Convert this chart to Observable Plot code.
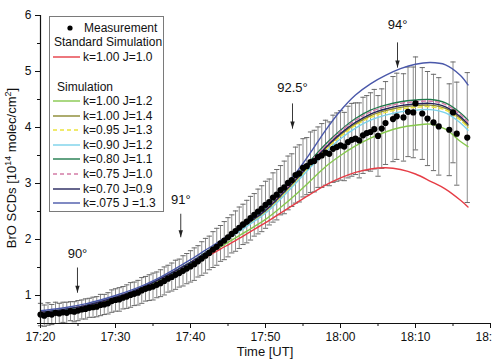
<!DOCTYPE html>
<html>
<head>
<meta charset="utf-8">
<script src="https://cdn.jsdelivr.net/npm/d3@7"></script>
<script src="https://cdn.jsdelivr.net/npm/@observablehq/plot@0.6"></script>
<style>
  body { margin: 0; background: #fff; }
  #wrap { position: relative; width: 492px; height: 360px; overflow: hidden; background: #fff; }
  #wrap svg { display: block; }
  #legend { position: absolute; left: 49px; top: 16px; }
</style>
</head>
<body>
<div id="wrap"></div>
<script>
const FONT = '"Liberation Sans", Arial, Helvetica, sans-serif';

// Measurement: minutes after 17:20 UT, BrO SCD (10^14 molec/cm^2) and its error
const measTime = [
  0, 0.5, 1, 1.5, 2, 2.5, 3, 3.5, 4, 4.5,
  5, 5.5, 6, 6.5, 7, 7.5, 8, 8.5, 9, 9.5,
  10, 10.5, 11, 11.5, 12, 12.5, 13, 13.5, 14, 14.5,
  15, 15.5, 16, 16.5, 17, 17.5, 18, 18.5, 19, 19.5,
  20, 20.5, 21, 21.5, 22, 22.5, 23, 23.5, 24, 24.5,
  25, 25.5, 26, 26.5, 27, 27.5, 28, 28.5, 29, 29.5,
  30, 30.5, 31, 31.5, 32, 32.5, 33, 33.5, 34, 34.5,
  35, 35.5, 36, 36.5, 37, 37.5, 38, 38.5, 39, 39.5,
  40, 40.5, 41, 41.5, 42, 42.5, 43, 43.5, 44, 44.5,
  45, 45.5, 46,
  47, 47.5, 48.4, 49, 49.7, 50, 50.9, 51.6, 52.4, 53.1, 54.5, 55, 55.5, 56.9
];
const measBrO = [
  0.66, 0.64, 0.67, 0.66, 0.69, 0.68, 0.70, 0.69, 0.72, 0.71,
  0.73, 0.75, 0.76, 0.78, 0.79, 0.80, 0.83, 0.84, 0.86, 0.90,
  0.92, 0.93, 0.96, 0.98, 1.01, 1.03, 1.05, 1.09, 1.12, 1.14,
  1.16, 1.19, 1.22, 1.26, 1.30, 1.33, 1.37, 1.40, 1.44, 1.48,
  1.52, 1.56, 1.61, 1.66, 1.71, 1.76, 1.82, 1.87, 1.93, 1.98,
  2.04, 2.10, 2.15, 2.21, 2.27, 2.32, 2.38, 2.44, 2.50, 2.55,
  2.62, 2.67, 2.75, 2.80, 2.88, 2.93, 3.01, 3.06, 3.15, 3.18,
  3.28, 3.31, 3.38, 3.40, 3.47, 3.50, 3.55, 3.53, 3.62, 3.65,
  3.68, 3.66, 3.74, 3.78, 3.80, 3.77, 3.86, 3.90, 3.92, 3.97,
  3.85, 3.98, 4.08,
  4.15, 4.20, 4.18, 4.28, 4.27, 4.43, 4.25, 4.16, 4.09, 4.02, 3.96, 4.27, 3.89, 3.82
];
const measErr = [
  0.20, 0.19, 0.20, 0.18, 0.19, 0.18, 0.18, 0.19, 0.17, 0.18,
  0.18, 0.17, 0.18, 0.17, 0.18, 0.18, 0.19, 0.18, 0.19, 0.20,
  0.20, 0.21, 0.20, 0.21, 0.22, 0.21, 0.22, 0.23, 0.22, 0.23,
  0.24, 0.23, 0.24, 0.25, 0.24, 0.25, 0.26, 0.25, 0.27, 0.27,
  0.28, 0.29, 0.28, 0.30, 0.31, 0.30, 0.32, 0.33, 0.32, 0.34,
  0.35, 0.34, 0.36, 0.37, 0.36, 0.38, 0.39, 0.38, 0.40, 0.41,
  0.42, 0.41, 0.44, 0.45, 0.44, 0.47, 0.48, 0.47, 0.50, 0.51,
  0.52, 0.51, 0.54, 0.55, 0.54, 0.57, 0.58, 0.57, 0.60, 0.61,
  0.62, 0.61, 0.64, 0.65, 0.64, 0.67, 0.68, 0.67, 0.70, 0.71,
  0.72, 0.71, 0.74,
  0.76, 0.77, 0.78, 0.80, 0.81, 0.83, 0.82, 0.84, 0.86, 0.87, 0.82, 0.90, 0.92, 1.16
];

// Model runs, sampled at these minutes after 17:20 UT
const simTime = [0, 2, 4, 6, 8, 10, 12, 14, 16, 18, 20, 22, 24, 26, 28, 30, 32, 34, 36, 38, 40, 42, 44, 46, 48, 50, 52, 54, 56, 57];

const simStandard = [0.68, 0.71, 0.75, 0.80, 0.87, 0.94, 1.03, 1.13, 1.25, 1.38, 1.53, 1.68, 1.83, 1.98, 2.14, 2.30, 2.47, 2.64, 2.81, 2.97, 3.10, 3.20, 3.26, 3.28, 3.25, 3.17, 3.04, 2.90, 2.70, 2.58];
const simK100J12 = [0.69, 0.72, 0.76, 0.81, 0.88, 0.96, 1.05, 1.15, 1.28, 1.42, 1.56, 1.71, 1.87, 2.03, 2.19, 2.36, 2.57, 2.80, 3.05, 3.30, 3.50, 3.67, 3.81, 3.92, 4.00, 4.04, 4.06, 3.97, 3.75, 3.66];
const simK100J14 = [0.70, 0.73, 0.77, 0.82, 0.89, 0.97, 1.06, 1.17, 1.30, 1.44, 1.59, 1.76, 1.93, 2.12, 2.31, 2.50, 2.76, 3.05, 3.34, 3.62, 3.87, 4.06, 4.21, 4.30, 4.36, 4.39, 4.40, 4.34, 4.16, 4.03];
const simK095J13 = [0.70, 0.73, 0.77, 0.82, 0.89, 0.97, 1.06, 1.17, 1.30, 1.44, 1.59, 1.75, 1.93, 2.11, 2.30, 2.49, 2.75, 3.03, 3.32, 3.60, 3.84, 4.04, 4.18, 4.27, 4.33, 4.36, 4.37, 4.31, 4.13, 4.00];
const simK090J12 = [0.70, 0.73, 0.77, 0.82, 0.89, 0.97, 1.06, 1.17, 1.30, 1.44, 1.59, 1.75, 1.92, 2.10, 2.28, 2.47, 2.72, 3.00, 3.29, 3.56, 3.80, 3.99, 4.13, 4.22, 4.28, 4.31, 4.32, 4.26, 4.08, 3.95];
const simK080J11 = [0.70, 0.73, 0.77, 0.82, 0.89, 0.97, 1.06, 1.17, 1.30, 1.44, 1.59, 1.77, 1.95, 2.15, 2.34, 2.55, 2.81, 3.11, 3.41, 3.70, 3.95, 4.16, 4.31, 4.40, 4.46, 4.49, 4.50, 4.44, 4.26, 4.13];
const simK075J10 = [0.70, 0.73, 0.77, 0.82, 0.89, 0.97, 1.06, 1.17, 1.30, 1.44, 1.59, 1.76, 1.95, 2.14, 2.33, 2.53, 2.80, 3.09, 3.39, 3.67, 3.93, 4.13, 4.28, 4.37, 4.43, 4.46, 4.47, 4.41, 4.23, 4.10];
const simK070J09 = [0.70, 0.73, 0.77, 0.82, 0.89, 0.97, 1.06, 1.17, 1.30, 1.44, 1.59, 1.76, 1.94, 2.13, 2.32, 2.52, 2.78, 3.06, 3.36, 3.64, 3.89, 4.09, 4.24, 4.33, 4.39, 4.42, 4.43, 4.37, 4.19, 4.06];
const simK075J13 = [0.73, 0.76, 0.80, 0.85, 0.92, 1.00, 1.09, 1.20, 1.33, 1.48, 1.64, 1.81, 1.98, 2.17, 2.37, 2.60, 2.87, 3.18, 3.55, 3.95, 4.30, 4.58, 4.78, 4.93, 5.05, 5.13, 5.16, 5.12, 4.93, 4.76];

const simLabels = ["k=1.00 J=1.0", "k=1.00 J=1.2", "k=1.00 J=1.4", "k=0.95 J=1.3", "k=0.90 J=1.2", "k=0.80 J=1.1", "k=0.75 J=1.0", "k=0.70 J=0.9", "k=.075 J =1.3"];
const simSeries = [simStandard, simK100J12, simK100J14, simK095J13, simK090J12, simK080J11, simK075J10, simK070J09, simK075J13];
const simColors = ["#e63d46", "#86c84c", "#8a8830", "#ece43c", "#7ad2ea", "#1f7a4c", "#d47ca6", "#25245c", "#4a58aa"];
const simDashed = [false, false, false, true, false, false, true, false, false];

// Solar zenith angle markers
const szaLabel = ["90°", "91°", "92.5°", "94°"];
const szaTime = [4.93, 18.7, 33.6, 47.6];
const szaTextY = [1.75, 2.71, 4.71, 5.84];
const szaArrowFrom = [1.50, 2.46, 4.43, 5.52];
const szaArrowTo = [1.05, 2.04, 3.98, 5.07];

// Axis ticks
const xMajor = [0, 10, 20, 30, 40, 50, 60];
const xMinor = [5, 15, 25, 35, 45, 55];
const yMajor = [1, 2, 3, 4, 5, 6];
const yMinor = [0.5, 1.5, 2.5, 3.5, 4.5, 5.5];

const t0 = Date.UTC(2000, 0, 1, 17, 20);
const at = (m) => new Date(t0 + m * 60000);

const meas = measTime.map((m, i) => ({
  m, time: at(m), value: measBrO[i],
  lo: measBrO[i] - measErr[i], hi: measBrO[i] + measErr[i]
}));
const simRows = simSeries.map((vals, s) =>
  vals.map((v, i) => ({time: at(simTime[i]), value: v, name: simLabels[s]})));
const sza = szaLabel.map((label, i) => ({
  label, time: at(szaTime[i]), ty: szaTextY[i], y1: szaArrowFrom[i], y2: szaArrowTo[i]
}));

// narrow filled arrow head pointing down, tip at the anchor point
const arrowHead = {
  draw(context) {
    context.moveTo(0, 0);
    context.lineTo(-2.2, -7);
    context.lineTo(2.2, -7);
    context.closePath();
  }
};

const capHalf = 0.35; // minutes
const chart = Plot.plot({
  width: 492,
  height: 360,
  marginLeft: 40,
  marginRight: 2,
  marginTop: 15,
  marginBottom: 37,
  style: {fontFamily: FONT, fontSize: "12px", color: "#111", background: "transparent", overflow: "visible"},
  x: {type: "utc", domain: [at(0), at(60)], label: null},
  y: {domain: [0.5, 6], label: null},
  marks: [
    // error bars
    Plot.ruleX(meas, {x: "time", y1: "lo", y2: "hi", stroke: "#8c8c8c", strokeWidth: 1}),
    Plot.link(meas, {x1: d => at(d.m - capHalf), x2: d => at(d.m + capHalf), y1: "lo", y2: "lo", stroke: "#6a6a6a", strokeWidth: 1}),
    Plot.link(meas, {x1: d => at(d.m - capHalf), x2: d => at(d.m + capHalf), y1: "hi", y2: "hi", stroke: "#6a6a6a", strokeWidth: 1}),
    // model curves
    ...simRows.map((rows, s) => Plot.line(rows, {
      x: "time", y: "value", curve: "catmull-rom",
      stroke: simColors[s], strokeWidth: 1.4,
      strokeDasharray: simDashed[s] ? "4,3" : null
    })),
    // measurements
    Plot.dot(meas, {x: "time", y: "value", r: 3.1, fill: "#000", stroke: "none"}),
    // zenith angle annotations
    Plot.link(sza, {x1: "time", x2: "time", y1: "y1", y2: "y2", stroke: "#222", strokeWidth: 0.9}),
    Plot.dot(sza, {x: "time", y: "y2", symbol: arrowHead, fill: "#222", stroke: "none", r: 3}),
    Plot.text(sza, {x: "time", y: "ty", text: "label", fontSize: 13, fill: "#111"}),
    // axes
    Plot.ruleX([at(0)], {stroke: "#111", strokeWidth: 1.2}),
    Plot.ruleY([0.5], {stroke: "#111", strokeWidth: 1.2}),
    Plot.axisX({ticks: xMajor.map(at), tickFormat: d3.utcFormat("%H:%M"), tickSize: 5, tickPadding: 4, fontSize: 12, stroke: "#111"}),
    Plot.axisX({ticks: xMinor.map(at), tickFormat: () => "", tickSize: 3, stroke: "#111"}),
    Plot.axisY({ticks: yMajor, tickFormat: d3.format("d"), tickSize: 5, tickPadding: 4, fontSize: 12, stroke: "#111"}),
    Plot.axisY({ticks: yMinor, tickFormat: () => "", tickSize: 3, stroke: "#111"})
  ]
});

const svg = d3.select(chart);
svg.append("text")
  .attr("x", 265).attr("y", 356)
  .attr("text-anchor", "middle")
  .attr("font-family", FONT).attr("font-size", 13).attr("fill", "#111")
  .text("Time [UT]");

const ylab = svg.append("text")
  .attr("transform", "translate(16,168) rotate(-90)")
  .attr("text-anchor", "middle")
  .attr("font-family", FONT).attr("font-size", 13).attr("fill", "#111");
ylab.append("tspan").text("BrO SCDs [10");
ylab.append("tspan").attr("font-size", 9).attr("dy", -5).text("14");
ylab.append("tspan").attr("dy", 5).text(" molec/cm");
ylab.append("tspan").attr("font-size", 9).attr("dy", -5).text("2");
ylab.append("tspan").attr("dy", 5).text("]");

document.getElementById("wrap").appendChild(chart);

// Legend box
const lg = d3.select("#wrap").append("svg")
  .attr("id", "legend")
  .attr("width", 115).attr("height", 196)
  .style("font-family", FONT).style("font-size", "12px");
lg.append("rect").attr("x", 0.5).attr("y", 0.5).attr("width", 114).attr("height", 195)
  .attr("fill", "#fff").attr("stroke", "#7a7a7a").attr("stroke-width", 1);
lg.append("circle").attr("cx", 21).attr("cy", 12).attr("r", 2.6).attr("fill", "#000");
lg.append("text").attr("x", 35).attr("y", 12).attr("dy", "0.35em").attr("fill", "#111").text("Measurement");
lg.append("text").attr("x", 5).attr("y", 26).attr("dy", "0.35em").attr("fill", "#111").text("Standard Simulation");
lg.append("text").attr("x", 8).attr("y", 71).attr("dy", "0.35em").attr("fill", "#111").text("Simulation");
const rowY = [41, 85, 100, 114, 129, 143, 158, 173, 187];
simLabels.forEach((label, s) => {
  lg.append("line").attr("x1", 4).attr("x2", 31).attr("y1", rowY[s]).attr("y2", rowY[s])
    .attr("stroke", simColors[s]).attr("stroke-width", 1.4)
    .attr("stroke-dasharray", simDashed[s] ? "4,3" : null);
  lg.append("text").attr("x", 34).attr("y", rowY[s]).attr("dy", "0.35em").attr("fill", "#111").text(label);
});
</script>
</body>
</html>
